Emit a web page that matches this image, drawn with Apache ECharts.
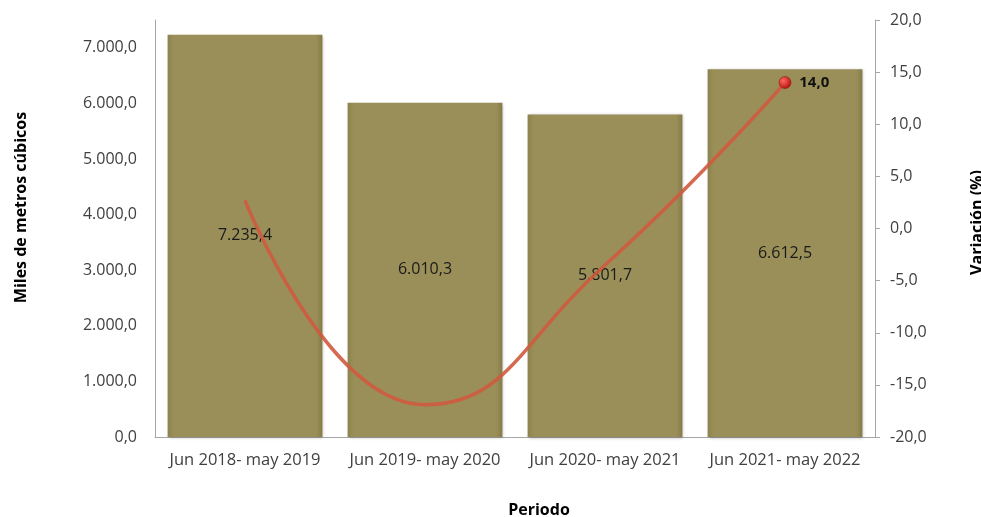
<!DOCTYPE html>
<html><head><meta charset="utf-8">
<script src="https://cdn.jsdelivr.net/npm/echarts@6/dist/echarts.min.js"></script>
<style>html,body{margin:0;padding:0;background:#fff}#c{width:981px;height:517px}</style>
</head><body><div id="c"></div>
<script>
const categories = ['Jun 2018- may 2019','Jun 2019- may 2020','Jun 2020- may 2021','Jun 2021- may 2022'];
const volumes = [7235.4, 6010.3, 5801.7, 6612.5];
const variation = [2.7, -16.9, -3.5, 14.0];
const leftTicks = [0,1000,2000,3000,4000,5000,6000,7000];
const rightTicks = [-20,-15,-10,-5,0,5,10,15,20];

function fmt(v){
  const s = Math.abs(v).toFixed(1).split('.');
  const int = s[0].replace(/\B(?=(\d{3})+(?!\d))/g,'.');
  return (v<0?'-':'') + int + ',' + s[1];
}
const font = '"Open Sans", "Noto Sans", sans-serif';
const chart = echarts.init(document.getElementById('c'));
chart.setOption({
  animation:false,
  textStyle:{fontFamily:font},
  grid:{left:155,right:106,top:20,bottom:80,containLabel:false,outerBoundsMode:'none'},
  xAxis:{type:'category',data:categories,
    name:'Periodo',nameLocation:'middle',nameGap:65,
    nameTextStyle:{fontWeight:'bold',fontSize:16,color:'#000',fontFamily:font,padding:[0,0,0,48]},
    axisLine:{lineStyle:{color:'#a6a6a6'}},axisTick:{show:false},
    axisLabel:{color:'#404040',fontSize:16.5,margin:15,fontFamily:font,interval:0,hideOverlap:false}},
  yAxis:[
    {type:'value',min:0,max:7500,interval:1000,
     name:'Miles de metros cúbicos',nameLocation:'middle',nameGap:126,nameRotate:90,
     nameTextStyle:{fontWeight:'bold',fontSize:16,color:'#000',fontFamily:font,padding:[0,0,0,42]},
     axisLine:{show:true,lineStyle:{color:'#a6a6a6'}},axisTick:{show:false},
     splitLine:{show:false},
     axisLabel:{color:'#404040',fontSize:16,margin:18,showMaxLabel:false,fontFamily:font,
       formatter:v=>leftTicks.includes(v)?fmt(v):''}},
    {type:'value',min:-20,max:20,interval:5,position:'right',
     name:'Variación (%)',nameLocation:'middle',nameGap:94,nameRotate:90,
     nameTextStyle:{fontWeight:'bold',fontSize:16,color:'#000',fontFamily:font,padding:[0,0,0,12]},
     axisLine:{show:true,lineStyle:{color:'#a6a6a6'}},
     axisTick:{show:true,length:5,lineStyle:{color:'#a6a6a6'}},
     splitLine:{show:false},
     axisLabel:{color:'#404040',fontSize:16,margin:15,fontFamily:font,
       formatter:v=>rightTicks.includes(v)?fmt(v):''}}
  ],
  series:[
    {type:'bar',data:volumes,barWidth:'86%',
     itemStyle:{color:new echarts.graphic.LinearGradient(0,0,1,0,[
        {offset:0,color:'#8c824d'},{offset:0.04,color:'#9a8f59'},{offset:0.96,color:'#9a8f59'},{offset:1,color:'#857b48'}]),
        borderWidth:0,
        shadowColor:'rgba(0,0,0,0.3)',shadowBlur:3,shadowOffsetX:1,shadowOffsetY:1},
     label:{show:true,position:'inside',color:'#1a1a1a',fontSize:16,fontFamily:font,
       formatter:p=>fmt(p.value)}},
    {type:'line',yAxisIndex:1,data:variation.map((v,i)=>i===variation.length-1?{value:v,symbol:'circle',symbolSize:12,
        itemStyle:{color:new echarts.graphic.RadialGradient(0.35,0.35,0.7,[{offset:0,color:'#ff6a5a'},{offset:1,color:'#b30f0f'}]),borderColor:'#8a0a0a',borderWidth:0.5},
        label:{show:true,position:'right',distance:8,fontWeight:'bold',fontSize:15,color:'#111',fontFamily:font,formatter:p=>fmt(p.value)}}:{value:v,symbol:'none'}),
     smooth:0.5,symbol:'none',
     lineStyle:{color:'#cf5a3e',width:3.5,opacity:0.9},
     z:5}
  ]
});
</script></body></html>
